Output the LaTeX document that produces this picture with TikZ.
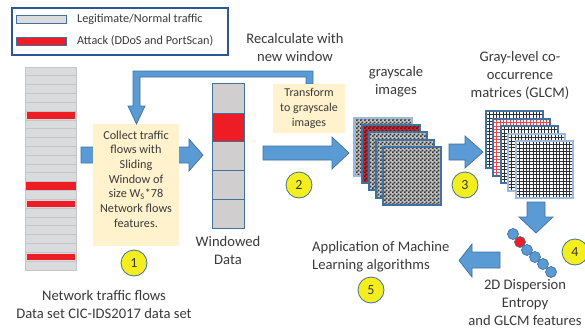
\documentclass[tikz,border=0pt]{standalone}
\usepackage{fontspec}
\setmainfont{Carlito}
\usetikzlibrary{patterns}
\pgfdeclarepatternformonly{finecheck}{\pgfpointorigin}{\pgfqpoint{4pt}{4pt}}{\pgfqpoint{4pt}{4pt}}{%
  \pgfpathrectangle{\pgfpointorigin}{\pgfqpoint{2pt}{2pt}}%
  \pgfpathrectangle{\pgfqpoint{2pt}{2pt}}{\pgfqpoint{2pt}{2pt}}%
  \pgfusepath{fill}}
\definecolor{arrblue}{HTML}{5B9BD5}
\definecolor{arredge}{HTML}{41719C}
\definecolor{edgelight}{HTML}{9DB9DC}
\definecolor{legedge}{HTML}{2F5597}
\definecolor{lyellow}{HTML}{FFF2CC}
\definecolor{cyellow}{HTML}{F5EE1E}
\definecolor{atkred}{HTML}{EE1C25}
\definecolor{cellgray}{HTML}{D0CECE}
\definecolor{colgray}{HTML}{DADBDD}
\definecolor{rowline}{HTML}{C4C5C7}
\definecolor{txt}{HTML}{3A3A3A}
\definecolor{gridnavy}{HTML}{2E2E38}
\definecolor{gridred}{HTML}{F04848}
\definecolor{imggray}{HTML}{C4C4C4}
\tikzset{
  bigtext/.style={font=\fontsize{14.6}{18}\selectfont, text=txt, align=center, inner sep=0pt},
  smalltext/.style={font=\fontsize{12.2}{14.7}\selectfont, text=txt, align=center, inner sep=0pt},
  numcirc/.style={circle, draw=arredge, fill=cyellow, minimum size=26pt, inner sep=0pt, line width=0.8pt, font=\fontsize{14}{14}\selectfont, text=txt},
  blockarr/.style={fill=arrblue, draw=arredge, line width=0.7pt, line join=miter},
  cellbox/.style={draw=arredge, line width=0.9pt},
  dotblue/.style={circle, fill=arrblue, draw=arredge, line width=0.7pt, minimum size=11pt, inner sep=0pt},
  dotred/.style={circle, fill=atkred, draw=arredge, line width=0.7pt, minimum size=11pt, inner sep=0pt},
}
\begin{document}
\begin{tikzpicture}[x=1pt, y=-1pt]
\useasboundingbox (0,0) rectangle (585,329);
\fill[white] (0,0) rectangle (585,329);

% legend
\draw[legedge, line width=1.3pt] (12,8) rectangle (228,55);
\fill[colgray, draw=arredge, line width=0.8pt] (16,15) rectangle (66,23);
\fill[atkred, draw=arredge, line width=0.8pt] (16,37) rectangle (66,45);
\node[smalltext, anchor=west] (legnormal) at (77,19.5) {Legitimate/Normal traffic};
\node[smalltext, anchor=west] (legattack) at (77,41) {Attack (DDoS and PortScan)};

% network traffic column
\fill[colgray] (25,67) rectangle (76,270);
\foreach \i in {1,...,22} \draw[rowline, line width=0.9pt] (25,{67+\i*8.826}) -- (76,{67+\i*8.826});
\foreach \i in {5,15,21} \fill[atkred] (26.5,{67+\i*8.826+1.2}) rectangle (74.5,{67+(\i+1)*8.826-1.2});
\fill[atkred] (25,{67+13*8.826+0.3}) rectangle (76,{67+14*8.826-0.3});
\draw[rowline, line width=0.9pt] (25,67) rectangle (76,270);

% arrow 1
\draw[blockarr] (81,147) -- (189,147) -- (189,139) -- (203,155) -- (189,171) -- (189,163) -- (81,163) -- cycle;

% collect box
\node[fill=lyellow, minimum width=86pt, minimum height=122pt, inner sep=0pt] (collectbox) at (136,185) {};
\node[smalltext] (collect) at (136,179) {Collect traffic\\flows with\\Sliding\\Window of\\size W\textsubscript{S}*78\\Network flows\\features.};
\node[numcirc] (c1) at (134,263) {1};

% feedback arrow
\draw[blockarr] (306,84) -- (306,77) -- (140,77) -- (140,106) -- (145,106) -- (136.5,124) -- (128,106) -- (133,106) -- (133,71) -- (313,71) -- (313,84) -- cycle;
\node[bigtext] (recalc) at (295,47) {Recalculate with\\new window};

% transform box
\node[fill=lyellow, minimum width=72pt, minimum height=49pt, inner sep=0pt, smalltext, font=\fontsize{12}{15}\selectfont] (transform) at (309,108.5) {Transform\\to grayscale\\images};

% windowed data
\foreach \ya/\yb/\cl in {83/113/cellgray, 113/141/atkred, 141/170/cellgray, 170/199/cellgray, 199/228/cellgray}
  \fill[\cl, cellbox] (212,\ya) rectangle (244,\yb);
\node[bigtext] (windowed) at (228,250.5) {Windowed\\Data};

% arrow 2
\draw[blockarr] (263,146) -- (332,146) -- (332,137) -- (349,153) -- (332,169) -- (332,160) -- (263,160) -- cycle;
\node[numcirc] (c2) at (299,185) {2};

% grayscale images stack
\node[bigtext] (grayscale) at (396,81.5) {grayscale\\images};
\foreach \x/\y/\bg/\pc/\ec/\lw in {354/118/imggray/black!80/edgelight/1.8, 362/125/atkred/black!85/arredge/1.1, 369/132/imggray/black!80/arredge/1.1, 376/140/imggray/black!80/arredge/1.1, 383/147/imggray/black!80/arredge/1.1}{
  \fill[\bg] (\x,\y) rectangle ++(58,58);
  \fill[pattern=finecheck, pattern color=\pc] (\x,\y) rectangle ++(58,58);
  \draw[\ec, line width=\lw pt] (\x,\y) rectangle ++(58,58);
}

% arrow 3
\draw[blockarr] (449,144) -- (465,144) -- (465,136) -- (483,152) -- (465,168) -- (465,160) -- (449,160) -- cycle;
\node[numcirc] (c3) at (465,185) {3};

% GLCM stack
\node[bigtext] (glcm) at (520,75.5) {Gray-level co-\\occurrence\\matrices (GLCM)};
\foreach \x/\y/\lc/\ec/\lw in {486/111/gridnavy/arredge/1.1, 493/119/gridred/arredge/1.1, 501/126/gridnavy/arredge/1.1, 508/134/gridnavy/edgelight/1.6, 516/141/gridnavy/edgelight/1.6}{
  \fill[white] (\x,\y) rectangle ++(57,57);
  \foreach \k in {1,...,16}{
    \draw[\lc, line width=0.4pt] ({\x+\k*3.353},\y) -- ++(0,57);
    \draw[\lc, line width=0.4pt] (\x,{\y+\k*3.353}) -- ++(57,0);
  }
  \draw[\ec, line width=\lw pt] (\x,\y) rectangle ++(57,57);
}

% arrow 4
\draw[blockarr] (527,202) -- (545,202) -- (545,217) -- (553,217) -- (536,233) -- (519,217) -- (527,217) -- cycle;

% dots
\node[dotblue] (d1) at (513,234) {};
\node[dotred] (d2) at (520,242) {};
\node[dotblue] (d3) at (527,250) {};
\node[dotblue] (d4) at (535,257) {};
\node[dotblue] (d5) at (543,264) {};
\node[dotblue] (d6) at (551,272) {};
\node[numcirc] (c4) at (575,252) {4};
\node[bigtext] (dispersion) at (525,302.5) {2D Dispersion\\Entropy\\and GLCM features};

% arrow 5
\draw[blockarr] (500,252) -- (472,252) -- (472,244) -- (459,260.5) -- (472,277) -- (472,268) -- (500,268) -- cycle;
\node[bigtext, align=left, anchor=west] (application) at (312,256.5) {Application of Machine\\Learning algorithms};
\node[numcirc] (c5) at (371,290) {5};

% network caption
\node[bigtext] (network) at (104,304) {Network traffic flows\\Data set CIC-IDS2017 data set};
\end{tikzpicture}
\end{document}
